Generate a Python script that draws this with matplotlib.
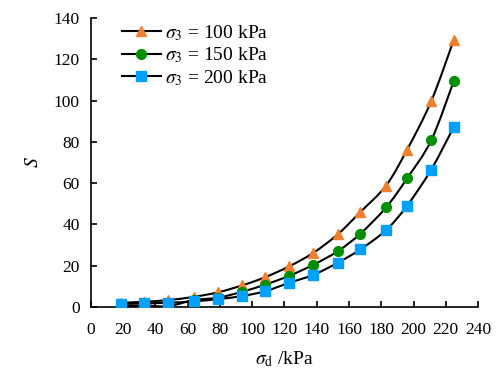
import matplotlib.pyplot as plt
import numpy as np
from matplotlib.path import Path
from matplotlib.patches import PathPatch

plt.rcParams["font.family"] = ["Liberation Serif", "DejaVu Serif"]
plt.rcParams["mathtext.fontset"] = "stix"

# values
sigma_d = [19, 33, 48, 64, 79, 94, 108, 123, 138, 153, 167, 183, 196, 211, 225]
s_100 = [1.9, 2.4, 3.2, 4.8, 7.0, 10.4, 14.3, 19.6, 26.2, 35.1, 45.9, 58.8, 76.2, 99.8, 129.6]
s_150 = [0.3, 0.5, 0.3, 3.2, 4.4, 7.3, 10.7, 15.0, 20.4, 26.9, 35.4, 48.2, 62.3, 80.8, 109.6]
s_200 = [1.3, 1.6, 1.9, 2.6, 3.7, 5.2, 7.5, 11.6, 15.5, 21.3, 27.8, 37.2, 49.0, 66.6, 87.3]
labels = [r"$\sigma_3$ = 100 kPa", r"$\sigma_3$ = 150 kPa", r"$\sigma_3$ = 200 kPa"]


def smooth_path(x, y, t=1 / 6):
    # Excel-like smoothed line: cubic Bezier segments through the data points
    x = np.asarray(x, float)
    y = np.asarray(y, float)
    verts = [(x[0], y[0])]
    codes = [Path.MOVETO]
    n = len(x)
    for i in range(n - 1):
        p0 = max(i - 1, 0)
        p3 = min(i + 2, n - 1)
        c1 = (x[i] + (x[i + 1] - x[p0]) * t, y[i] + (y[i + 1] - y[p0]) * t)
        c2 = (x[i + 1] - (x[p3] - x[i]) * t, y[i + 1] - (y[p3] - y[i]) * t)
        verts += [c1, c2, (x[i + 1], y[i + 1])]
        codes += [Path.CURVE4] * 3
    return Path(verts, codes)


fig = plt.figure(figsize=(4.99, 3.81), dpi=100)
ax = fig.add_axes([0.182, 0.195, 0.776, 0.757])

series = [
    (s_100, "^", "#F08030"),
    (s_150, "o", "#008F00"),
    (s_200, "s", "#00A0FF"),
]
for (ys, mk, col), lab in zip(series, labels):
    ax.add_patch(PathPatch(smooth_path(sigma_d, ys), facecolor="none",
                           edgecolor="black", linewidth=1.5, zorder=2))
    ax.plot(sigma_d, ys, linestyle="none", marker=mk, markersize=7,
            color=col, zorder=3)
    # legend proxy
    ax.plot([], [], color="black", linewidth=1.5, marker=mk, markersize=7,
            markerfacecolor=col, markeredgecolor=col, label=lab)

ax.set_xlim(0, 240)
ax.set_ylim(0, 140)
ax.set_xticks(np.arange(0, 241, 20))
ax.set_yticks(np.arange(0, 141, 20))
ax.tick_params(direction="in", length=4, width=1.2, labelsize=12.5)
ax.tick_params(axis="x", pad=11)
ax.tick_params(axis="y", pad=8)
for side in ("top", "right"):
    ax.spines[side].set_visible(False)
for side in ("left", "bottom"):
    ax.spines[side].set_linewidth(1.2)

ax.set_xlabel(r"$\sigma_\mathrm{d}$ /kPa", fontsize=14, labelpad=8)
ax.set_ylabel(r"$S$", fontsize=14, labelpad=8)

ax.legend(loc="upper left", bbox_to_anchor=(0.035, 1.045), frameon=False,
          fontsize=14, handlelength=2.0, handletextpad=0.2, labelspacing=0.15)

fig.savefig("out.png", dpi=100)
